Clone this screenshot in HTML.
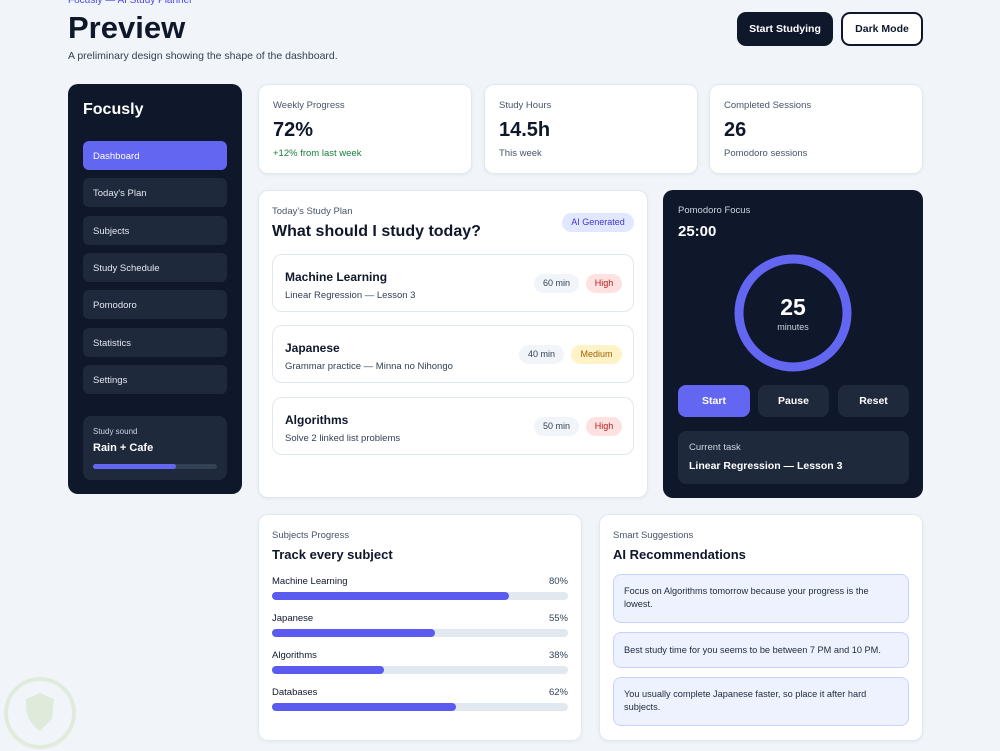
<!DOCTYPE html>
<html><head><meta charset="utf-8"><style>
*{box-sizing:border-box;margin:0;padding:0}
body{width:1000px;height:750px;background:#f1f5f9;font-family:"Liberation Sans",sans-serif;position:relative;overflow:hidden;color:#0f172a}
.a{position:absolute}
.card{position:absolute;background:#fff;border:1px solid #e2e8f0;border-radius:10px;box-shadow:0 1px 3px rgba(15,23,42,.06)}
.lbl{position:absolute;font-size:9.5px;color:#475569}
.nav{position:absolute;left:15px;width:144px;height:29px;border-radius:6px;background:#1e293b;color:#e2e8f0;font-size:9.5px;padding:10px 10px 0}
.pill{position:absolute;height:19px;border-radius:10px;font-size:9px;text-align:center;line-height:19px}
.item{position:absolute;left:13px;width:362px;height:58px;border:1px solid #e2e8f0;border-radius:10px}
.it{position:absolute;left:12px;top:15px;font-size:12px;font-weight:bold}
.is{position:absolute;left:12px;top:35px;font-size:9.5px;color:#334155}
.btn{position:absolute;top:195px;height:32px;border-radius:8px;background:#1e293b;color:#fff;font-size:10.5px;font-weight:bold;text-align:center;line-height:32px}
.sg{position:absolute;left:13px;width:296px;background:#eef2ff;border:1px solid #c7d2fe;border-radius:8px;font-size:9.2px;color:#1e293b;padding:0 30px 0 10px;line-height:13px}
</style></head><body>
<div class="a" style="left:68px;top:-5px;font-size:10px;color:#4f46e5">Focusly — AI Study Planner</div>
<div class="a" style="left:68px;top:10px;font-size:31px;font-weight:bold;color:#0f172a">Preview</div>
<div class="a" style="left:68px;top:50px;font-size:10.5px;color:#334155">A preliminary design showing the shape of the dashboard.</div>
<div class="a" style="left:737px;top:12px;width:96px;height:34px;background:#0f172a;border-radius:9px;color:#fff;font-size:10.5px;font-weight:bold;text-align:center;line-height:34px">Start Studying</div>
<div class="a" style="left:841px;top:12px;width:82px;height:34px;background:#fff;border:2px solid #0f172a;border-radius:9px;color:#0f172a;font-size:10.5px;font-weight:bold;text-align:center;line-height:30px">Dark Mode</div>

<div class="a" style="left:68px;top:84px;width:174px;height:410px;background:#0f172a;border-radius:10px">
<div class="a" style="left:15px;top:17px;color:#fff;font-size:16px;font-weight:bold">Focusly</div>
<div class="nav" style="top:57px;background:#6366f1;color:#fff">Dashboard</div>
<div class="nav" style="top:94px">Today's Plan</div>
<div class="nav" style="top:132px">Subjects</div>
<div class="nav" style="top:169px">Study Schedule</div>
<div class="nav" style="top:206px">Pomodoro</div>
<div class="nav" style="top:244px">Statistics</div>
<div class="nav" style="top:281px">Settings</div>
<div class="a" style="left:15px;top:332px;width:144px;height:64px;background:#1e293b;border-radius:8px">
<div class="a" style="left:10px;top:11px;font-size:8px;color:#cbd5e1">Study sound</div>
<div class="a" style="left:10px;top:26px;font-size:11px;font-weight:bold;color:#fff">Rain + Cafe</div>
<div class="a" style="left:10px;top:48px;width:124px;height:5px;background:#334155;border-radius:3px"><div style="width:83px;height:5px;background:#6366f1;border-radius:3px"></div></div>
</div></div>

<div class="card" style="left:258px;top:84px;width:214px;height:90px">
<div class="lbl" style="left:14px;top:15px">Weekly Progress</div>
<div class="a" style="left:14px;top:34px;font-size:20px;font-weight:bold">72%</div>
<div class="a" style="left:14px;top:63px;font-size:9.5px;color:#15803d">+12% from last week</div></div>
<div class="card" style="left:484px;top:84px;width:214px;height:90px">
<div class="lbl" style="left:14px;top:15px">Study Hours</div>
<div class="a" style="left:14px;top:34px;font-size:20px;font-weight:bold">14.5h</div>
<div class="a" style="left:14px;top:63px;font-size:9.5px;color:#475569">This week</div></div>
<div class="card" style="left:709px;top:84px;width:214px;height:90px">
<div class="lbl" style="left:14px;top:15px">Completed Sessions</div>
<div class="a" style="left:14px;top:34px;font-size:20px;font-weight:bold">26</div>
<div class="a" style="left:14px;top:63px;font-size:9.5px;color:#475569">Pomodoro sessions</div></div>

<div class="card" style="left:258px;top:190px;width:390px;height:308px">
<div class="lbl" style="left:13px;top:15px">Today's Study Plan</div>
<div class="a" style="left:13px;top:32px;font-size:16px;font-weight:bold">What should I study today?</div>
<div class="pill" style="left:303px;top:22px;width:72px;background:#e0e7ff;color:#4338ca">AI Generated</div>
<div class="item" style="top:63px"><div class="it">Machine Learning</div><div class="is">Linear Regression — Lesson 3</div>
<div class="pill" style="left:261px;top:19px;width:45px;background:#f1f5f9;color:#334155">60 min</div><div class="pill" style="left:313px;top:19px;width:36px;background:#fee2e2;color:#b91c1c">High</div></div>
<div class="item" style="top:134px"><div class="it">Japanese</div><div class="is">Grammar practice — Minna no Nihongo</div>
<div class="pill" style="left:246px;top:19px;width:45px;background:#f1f5f9;color:#334155">40 min</div><div class="pill" style="left:298px;top:19px;width:51px;background:#fef3c7;color:#a16207">Medium</div></div>
<div class="item" style="top:206px"><div class="it">Algorithms</div><div class="is">Solve 2 linked list problems</div>
<div class="pill" style="left:261px;top:19px;width:45px;background:#f1f5f9;color:#334155">50 min</div><div class="pill" style="left:313px;top:19px;width:36px;background:#fee2e2;color:#b91c1c">High</div></div>
</div>

<div class="a" style="left:663px;top:190px;width:260px;height:308px;background:#0f172a;border-radius:10px">
<div class="a" style="left:15px;top:15px;font-size:9.5px;color:#cbd5e1">Pomodoro Focus</div>
<div class="a" style="left:15px;top:33px;font-size:15px;font-weight:bold;color:#fff">25:00</div>
<svg class="a" style="left:70px;top:63px" width="120" height="120"><circle cx="60" cy="60" r="54" fill="none" stroke="#6366f1" stroke-width="9"/></svg>
<div class="a" style="left:0;width:260px;top:104px;text-align:center;font-size:23px;font-weight:bold;color:#fff">25</div>
<div class="a" style="left:0;width:260px;top:132px;text-align:center;font-size:9px;color:#cbd5e1">minutes</div>
<div class="btn" style="left:15px;width:72px;background:#6366f1">Start</div>
<div class="btn" style="left:95px;width:71px">Pause</div>
<div class="btn" style="left:175px;width:71px">Reset</div>
<div class="a" style="left:15px;top:241px;width:231px;height:53px;background:#1e293b;border-radius:8px">
<div class="a" style="left:11px;top:11px;font-size:9.5px;color:#cbd5e1">Current task</div>
<div class="a" style="left:11px;top:29px;font-size:10.5px;font-weight:bold;color:#fff">Linear Regression — Lesson 3</div></div>
</div>

<div class="card" style="left:258px;top:514px;width:324px;height:227px">
<div class="lbl" style="left:13px;top:15px">Subjects Progress</div>
<div class="a" style="left:13px;top:32px;font-size:13px;font-weight:bold">Track every subject</div>
<div id="rows"></div></div>

<div class="card" style="left:599px;top:514px;width:324px;height:227px">
<div class="lbl" style="left:13px;top:15px">Smart Suggestions</div>
<div class="a" style="left:13px;top:32px;font-size:13px;font-weight:bold">AI Recommendations</div>
<div class="sg" style="top:59px;height:49px;padding-top:10px">Focus on Algorithms tomorrow because your progress is the lowest.</div>
<div class="sg" style="top:117px;height:36px;padding-top:11px;padding-right:10px;white-space:nowrap">Best study time for you seems to be between 7 PM and 10 PM.</div>
<div class="sg" style="top:162px;height:49px;padding-top:10px">You usually complete Japanese faster, so place it after hard subjects.</div>
</div>

<svg class="a" style="left:2px;top:675px;opacity:.2" width="76" height="76"><circle cx="38" cy="38" r="34" fill="none" stroke="#a3c76a" stroke-width="4"/><path d="M24 24 L38 18 L52 24 L50 44 Q38 56 38 56 Q26 48 24 34Z" fill="#9bbf6a"/></svg>

<script>
const subjects=["Machine Learning","Japanese","Algorithms","Databases"];
const progress=[80,55,38,62];
const rows=document.getElementById('rows');
const barW=296;
subjects.forEach((s,i)=>{
 const y=61+i*37;
 const n=document.createElement('div');n.className='a';
 
 
 n.style.cssText=`left:13px;top:${y}px;font-size:9.5px;color:#0f172a`;n.textContent=s;rows.appendChild(n);
 const p=document.createElement('div');p.className='a';
 
 
 p.style.cssText=`right:13px;top:${y}px;font-size:9.5px;color:#334155`;p.textContent=progress[i]+'%';rows.appendChild(p);
 const t=document.createElement('div');t.className='a';
 
 
 t.style.cssText=`left:13px;top:${y+16}px;width:${barW}px;height:8px;background:#e2e8f0;border-radius:4px`;
 const f=document.createElement('div');
 
 
 f.style.cssText=`width:${barW*progress[i]/100}px;height:8px;background:#5b5bf0;border-radius:4px`;
 t.appendChild(f);rows.appendChild(t);
});
</script>
</body></html>
